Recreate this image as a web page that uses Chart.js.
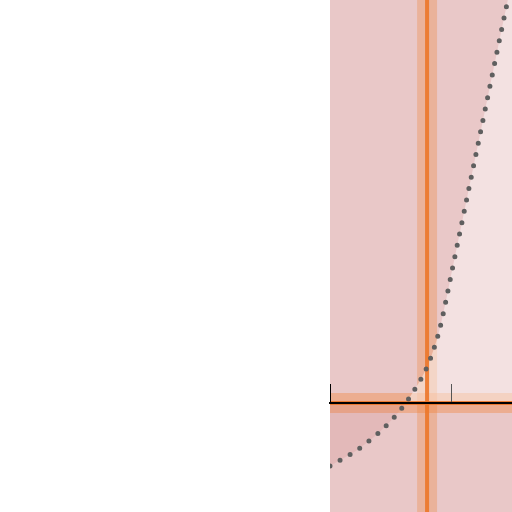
<!DOCTYPE html>
<html>
<head>
<meta charset="utf-8">
<script src="https://cdn.jsdelivr.net/npm/chart.js@4/dist/chart.umd.min.js"></script>
<style>
  body { margin: 0; background: #fff; }
  canvas { display: block; }
</style>
</head>
<body>
<canvas id="myChart" width="512" height="512"></canvas>
<script>
// Data ------------------------------------------
var curveX = [0, 0.1, 0.2, 0.3, 0.4, 0.5, 0.6, 0.7, 0.75, 0.8, 0.85, 0.9, 0.95, 1.0, 1.1, 1.2, 1.3, 1.4, 1.5];
var curveY = [-0.63, -0.56, -0.49, -0.40, -0.30, -0.18, -0.04, 0.14, 0.24, 0.36, 0.52, 0.72, 0.99, 1.29, 1.88, 2.47, 3.06, 3.65, 4.23];
var xRange = [0, 1.5];      // x axis min / max
var yRange = [-1.09, 4.03]; // y axis min / max
var xTicks = [0, 1];        // tick marks on the x axis
var markerX = 0.8;          // vertical marker
var markerY = 0;            // horizontal marker

var curve = curveX.map(function (x, i) { return { x: x, y: curveY[i] }; });
var vLine = [{ x: markerX, y: yRange[0] }, { x: markerX, y: yRange[1] }];
var hLine = [{ x: xRange[0], y: markerY }, { x: xRange[1], y: markerY }];

var vBandColor = 'rgba(240,130,50,0.3)';
var hBandColor = 'rgba(240,125,45,0.36)';
var lineColor = 'rgba(236,118,40,0.9)';

// pink plot background
var areaBg = {
  id: 'areaBg',
  beforeDraw: function (chart) {
    var a = chart.chartArea, ctx = chart.ctx;
    ctx.save();
    ctx.fillStyle = '#e9c8c8';
    ctx.fillRect(a.left, a.top, a.right - a.left, a.bottom - a.top);
    ctx.restore();
  }
};

// Chart ------------------------------------------
var ctx = document.getElementById('myChart').getContext('2d');
var myChart = new Chart(ctx, {
  type: 'line',
  data: {
    datasets: [
      { // dotted curve on top
        data: curve, order: 0, clip: 0,
        borderColor: '#5f5f5f', borderWidth: 5,
        borderDash: [0, 11.6], borderCapStyle: 'round',
        cubicInterpolationMode: 'monotone',
        pointRadius: 0, fill: false
      },
      { // marker lines
        data: vLine, order: 1, clip: 0,
        borderColor: lineColor, borderWidth: 4, pointRadius: 0, fill: false
      },
      {
        data: hLine, order: 1, clip: 0,
        borderColor: lineColor, borderWidth: 4, pointRadius: 0, fill: false
      },
      { // fill between curve and zero
        data: curve, order: 2, clip: 0,
        borderWidth: 0, borderColor: 'rgba(0,0,0,0)',
        cubicInterpolationMode: 'monotone', pointRadius: 0,
        fill: { target: 'origin', above: 'rgba(255,255,255,0.45)', below: 'rgba(190,80,80,0.12)' }
      },
      { // wide bands
        data: vLine, order: 3, clip: 0,
        borderColor: vBandColor, borderWidth: 20, pointRadius: 0, fill: false
      },
      {
        data: hLine, order: 3, clip: 0,
        borderColor: hBandColor, borderWidth: 20, pointRadius: 0, fill: false
      }
    ]
  },
  options: {
    responsive: false,
    animation: false,
    layout: { padding: { left: 330 } },
    plugins: { legend: { display: false }, tooltip: { enabled: false } },
    scales: {
      x: {
        type: 'linear',
        position: { y: markerY },
        min: xRange[0], max: xRange[1],
        afterBuildTicks: function (axis) {
          axis.ticks = xTicks.map(function (v) { return { value: v }; });
        },
        ticks: { display: false },
        grid: {
          z: 1,
          drawOnChartArea: false,
          tickLength: -20,
          color: function (c) { return c.tick && c.tick.value === 0 ? '#000' : '#555'; }
        },
        border: { z: 1, color: '#000', width: 2 }
      },
      y: {
        type: 'linear',
        display: false,
        min: yRange[0], max: yRange[1]
      }
    }
  },
  plugins: [areaBg]
});
</script>
</body>
</html>
